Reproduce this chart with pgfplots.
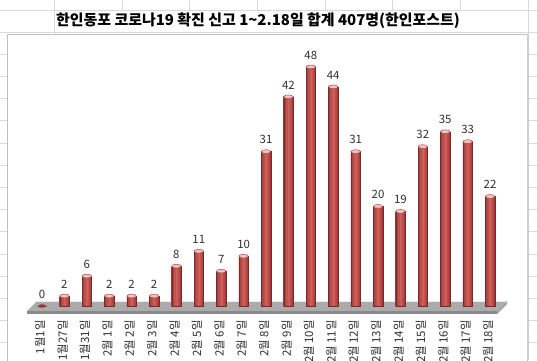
\documentclass[border=0pt]{standalone}
\usepackage{fontspec}
\setmainfont{Noto Sans CJK KR}
\usepackage{pgfplots}
\pgfplotsset{compat=1.18}
\definecolor{gridc}{HTML}{D9D9D9}
\definecolor{barleft}{HTML}{A23E3B}
\definecolor{barright}{HTML}{963532}
\definecolor{barmid}{HTML}{D2605C}
\definecolor{capfill}{HTML}{F0C4C2}
\definecolor{capdraw}{HTML}{B04A47}
\definecolor{numcol}{HTML}{303030}
\definecolor{floortop}{HTML}{ABABAB}
\definecolor{floorfront}{HTML}{8A8A8A}
\definecolor{boxc}{HTML}{BFBFBF}
\pgfplotsset{cyl/.style={ybar, bar shift=0pt, bar width=9.5bp, draw=barright!80!black, line width=0.3bp, left color=barleft, right color=barright, middle color=barmid}}
\newcommand{\cyl}[2]{\addplot[cyl] coordinates {(#1,#2)};}
\begin{document}
\begin{tikzpicture}[x=1bp,y=1bp]
\path[use as bounding box] (0,0) rectangle (537,360);
\clip (0,0) rectangle (537,360);
\fill[white] (0,0) rectangle (537,360);
% spreadsheet grid
\foreach \r in {10,32,54.2,76.4,98.6,120.8,143,165.2,187.4,209.6,231.8,254,276.2,298.4,320.6,342.8}
  {\draw[gridc,line width=0.8bp] (0,360-\r) -- (537,360-\r);}
\foreach \c in {54,122,189,257,325,392,460}
  {\draw[gridc,line width=0.8bp] (\c,360) -- (\c,350);}
\draw[gridc,line width=0.8bp] (54,350) -- (54,326);
\draw[gridc,line width=0.8bp] (528,360) -- (528,0);
% chart area
\filldraw[fill=white, draw=boxc, line width=0.8bp] (7,326) rectangle (527,-5);
\draw[boxc!80!white, line width=1.5bp] (528.2,326) -- (528.2,0);
% title
\node[font=\bfseries\fontsize{15}{17}\selectfont] at (258,339) {한인동포 코로나19 확진 신고 1\textasciitilde2.18일 합계 407명(한인포스트)};
% floor
\fill[floortop] (27,49) -- (497,49) -- (507,59) -- (37,59) -- cycle;
\draw[white!85!gray, line width=0.6bp] (37,59) -- (507,59);
\fill[floorfront] (27,49) -- (497,49) -- (497,46) -- (27,46) -- cycle;
\fill[floorfront!80!white] (497,49) -- (507,59) -- (507,56) -- (497,46) -- cycle;
\begin{axis}[
  at={(24.1bp,54bp)}, anchor=south west, scale only axis,
  width=483.84bp, height=266bp,
  xmin=-0.8, xmax=20.8, ymin=0, ymax=53.4,
  axis line style={draw=none}, major tick length=0pt,
  ytick=\empty, xtick={0,...,20},
  xticklabels={1월1일,1월27일,1월31일,2월 1일,2월 2일,2월 3일,2월 4일,2월 5일,2월 6일,2월 7일,2월 8일,2월 9일,2월 10일,2월 11일,2월 12일,2월 13일,2월 14일,2월 15일,2월 16일,2월 17일,2월 18일},
  xticklabel style={xshift=-2bp, rotate=90, anchor=east, font=\fontsize{11.5}{13}\selectfont, inner sep=0pt, text=numcol},
  xticklabel shift=14bp,
  clip=false,
  /pgf/number format/assume math mode=true]
\cyl{0}{0}
\cyl{1}{2}
\cyl{2}{6}
\cyl{3}{2}
\cyl{4}{2}
\cyl{5}{2}
\cyl{6}{8}
\cyl{7}{11}
\cyl{8}{7}
\cyl{9}{10}
\cyl{10}{31}
\cyl{11}{42}
\cyl{12}{48}
\cyl{13}{44}
\cyl{14}{31}
\cyl{15}{20}
\cyl{16}{19}
\cyl{17}{32}
\cyl{18}{35}
\cyl{19}{33}
\cyl{20}{22}
\addplot[only marks, mark=*, mark size=4.75bp, mark options={yscale=0.4, fill=capfill, draw=capdraw, line width=0.5bp}]
  coordinates {(1,2) (2,6) (3,2) (4,2) (5,2) (6,8) (7,11) (8,7) (9,10) (10,31) (11,42) (12,48) (13,44) (14,31) (15,20) (16,19) (17,32) (18,35) (19,33) (20,22)};
\addplot[only marks, mark=*, mark size=3.5bp, mark options={yscale=0.4, fill=barright, draw=barright}]
  coordinates {(0,0)};
\addplot[draw=none, mark=none, nodes near coords, nodes near coords style={font=\fontsize{11.5}{13}\selectfont, text=numcol, anchor=south, yshift=4bp}]
  coordinates {(0,0) (1,2) (2,6) (3,2) (4,2) (5,2) (6,8) (7,11) (8,7) (9,10) (10,31) (11,42) (12,48) (13,44) (14,31) (15,20) (16,19) (17,32) (18,35) (19,33) (20,22)};
\end{axis}
\end{tikzpicture}
\end{document}
